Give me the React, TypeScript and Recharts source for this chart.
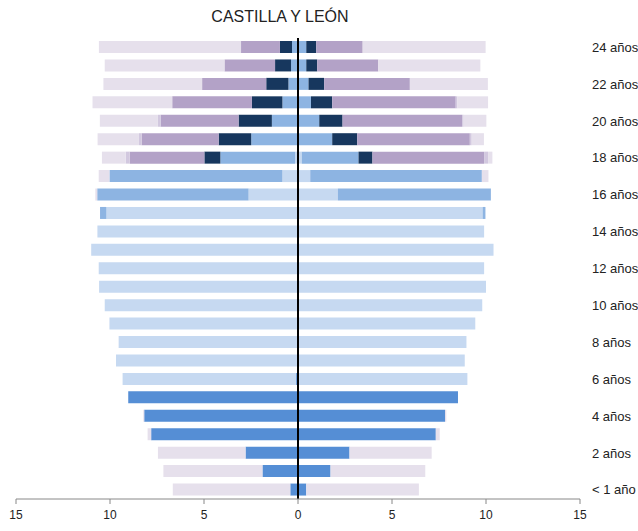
import { BarChart, Bar, XAxis, YAxis, ReferenceLine } from 'recharts';

// edades de < 1 año a 24 años (fila 0 = < 1 año)
const edades = [
  '< 1 año', '1 año', '2 años', '3 años', '4 años', '5 años', '6 años', '7 años', '8 años',
  '9 años', '10 años', '11 años', '12 años', '13 años', '14 años', '15 años', '16 años',
  '17 años', '18 años', '19 años', '20 años', '21 años', '22 años', '23 años', '24 años',
];

// lado izquierdo (% de población)
const izqInfantil = [0.41, 1.89, 2.79, 7.81, 8.18, 9.03, 0.1, 0, 0, 0, 0, 0, 0, 0, 0, 0, 0, 0, 0, 0, 0, 0, 0, 0, 0];
const izqObligatoria = [0, 0, 0, 0, 0, 0, 9.23, 9.68, 9.54, 10.03, 10.28, 10.58, 10.6, 11.0, 10.67, 10.19, 2.63, 0.83, 0.16, 0, 0, 0, 0, 0, 0];
const izqSecundaria = [0, 0, 0, 0, 0, 0, 0, 0, 0, 0, 0, 0, 0, 0, 0, 0.34, 8.05, 9.2, 3.97, 2.49, 1.39, 0.83, 0.51, 0.37, 0.32];
const izqFpSuperior = [0, 0, 0, 0, 0, 0, 0, 0, 0, 0, 0, 0, 0, 0, 0, 0, 0, 0, 0.85, 1.73, 1.77, 1.62, 1.18, 0.85, 0.64];
const izqUniversidad = [0, 0, 0, 0, 0, 0, 0, 0, 0, 0, 0, 0, 0, 0, 0, 0, 0, 0, 3.97, 4.1, 4.15, 4.24, 3.41, 2.69, 2.07];
const izqOtros = [0, 0, 0, 0, 0, 0, 0, 0, 0, 0, 0, 0, 0, 0, 0, 0, 0, 0, 0.21, 0.14, 0.14, 0, 0, 0, 0];
const izqNoEstudia = [6.25, 5.27, 4.66, 0.19, 0.05, 0, 0, 0, 0, 0, 0, 0, 0, 0, 0, 0, 0.1, 0.57, 1.27, 2.2, 3.09, 4.24, 5.25, 6.37, 7.56];

// lado derecho
const derInfantil = [0.44, 1.73, 2.74, 7.33, 7.82, 8.51, 0, 0, 0, 0, 0, 0, 0, 0, 0, 0, 0, 0, 0, 0, 0, 0, 0, 0, 0];
const derObligatoria = [0, 0, 0, 0, 0, 0, 9.01, 8.87, 8.96, 9.43, 9.8, 10.0, 9.9, 10.4, 9.9, 9.82, 2.12, 0.65, 0.2, 0, 0, 0, 0, 0, 0];
const derSecundaria = [0, 0, 0, 0, 0, 0, 0, 0, 0, 0, 0, 0, 0, 0, 0, 0.15, 8.14, 9.13, 3.02, 1.82, 1.13, 0.69, 0.56, 0.44, 0.44];
const derFpSuperior = [0, 0, 0, 0, 0, 0, 0, 0, 0, 0, 0, 0, 0, 0, 0, 0, 0, 0, 0.74, 1.33, 1.24, 1.13, 0.83, 0.58, 0.53];
const derUniversidad = [0, 0, 0, 0, 0, 0, 0, 0, 0, 0, 0, 0, 0, 0, 0, 0, 0, 0, 5.94, 5.99, 6.36, 6.57, 4.56, 3.25, 2.47];
const derOtros = [0, 0, 0, 0, 0, 0, 0, 0, 0, 0, 0, 0, 0, 0, 0, 0, 0, 0, 0.21, 0.1, 0.08, 0.09, 0, 0, 0];
const derNoEstudia = [5.99, 5.04, 4.37, 0.21, 0.07, 0, 0, 0, 0, 0, 0, 0, 0, 0, 0, 0, 0, 0.35, 0.23, 0.65, 1.21, 1.63, 4.15, 5.43, 6.54];

const xTicks = [-15, -10, -5, 0, 5, 10, 15];

const niveles = [
  { key: 'infantil', color: '#558ED5', izq: izqInfantil, der: derInfantil },
  { key: 'obligatoria', color: '#C6D9F1', izq: izqObligatoria, der: derObligatoria },
  { key: 'secundaria', color: '#8DB4E2', izq: izqSecundaria, der: derSecundaria },
  { key: 'fpSuperior', color: '#17375E', izq: izqFpSuperior, der: derFpSuperior },
  { key: 'universidad', color: '#B3A2C7', izq: izqUniversidad, der: derUniversidad },
  { key: 'otros', color: '#D2C8DF', izq: izqOtros, der: derOtros },
  { key: 'noEstudia', color: '#E6E0EC', izq: izqNoEstudia, der: derNoEstudia },
];

const data = edades.map((edad, i) => {
  const row: Record<string, any> = { edad, idx: i };
  niveles.forEach(n => {
    row['izq_' + n.key] = -n.izq[i];
    row['der_' + n.key] = n.der[i];
  });
  return row;
});

const FONT = '"Liberation Sans", Arial, sans-serif';

export default function App() {
  return (
    <div style={{ position: 'absolute', left: 0, top: 0, width: 638, height: 531, fontFamily: FONT }}>
      <div style={{ position: 'absolute', left: 0, top: 8, width: 560, textAlign: 'center', fontSize: 16, color: '#222' }}>
        CASTILLA Y LEÓN
      </div>
      <BarChart
        width={638}
        height={531}
        data={data}
        layout="vertical"
        stackOffset="sign"
        barSize={12}
        margin={{ top: 38, right: 0, bottom: 2, left: 16 }}
      >
        <XAxis
          type="number"
          domain={[-15, 15]}
          ticks={xTicks}
          tickFormatter={(v: number) => String(Math.abs(v))}
          height={30}
          stroke="#888"
          tickSize={5}
          tickMargin={6}
          tick={{ fill: '#222', fontSize: 12, fontFamily: FONT }}
        />
        <YAxis
          type="category"
          dataKey="edad"
          orientation="right"
          reversed
          width={58}
          interval={0}
          axisLine={false}
          tickLine={false}
          tickSize={0}
          tickMargin={12}
          tickFormatter={(v: string, i: number) => (i % 2 === 0 ? v : '')}
          tick={{ fill: '#222', fontSize: 13, fontFamily: FONT, textAnchor: 'start' }}
        />
        {niveles.map(n => (
          <Bar key={'izq_' + n.key} dataKey={'izq_' + n.key} stackId="a" fill={n.color} isAnimationActive={false} />
        ))}
        {niveles.map(n => (
          <Bar key={'der_' + n.key} dataKey={'der_' + n.key} stackId="a" fill={n.color} isAnimationActive={false} />
        ))}
        <ReferenceLine x={0} stroke="#000" strokeWidth={2} />
      </BarChart>
    </div>
  );
}
